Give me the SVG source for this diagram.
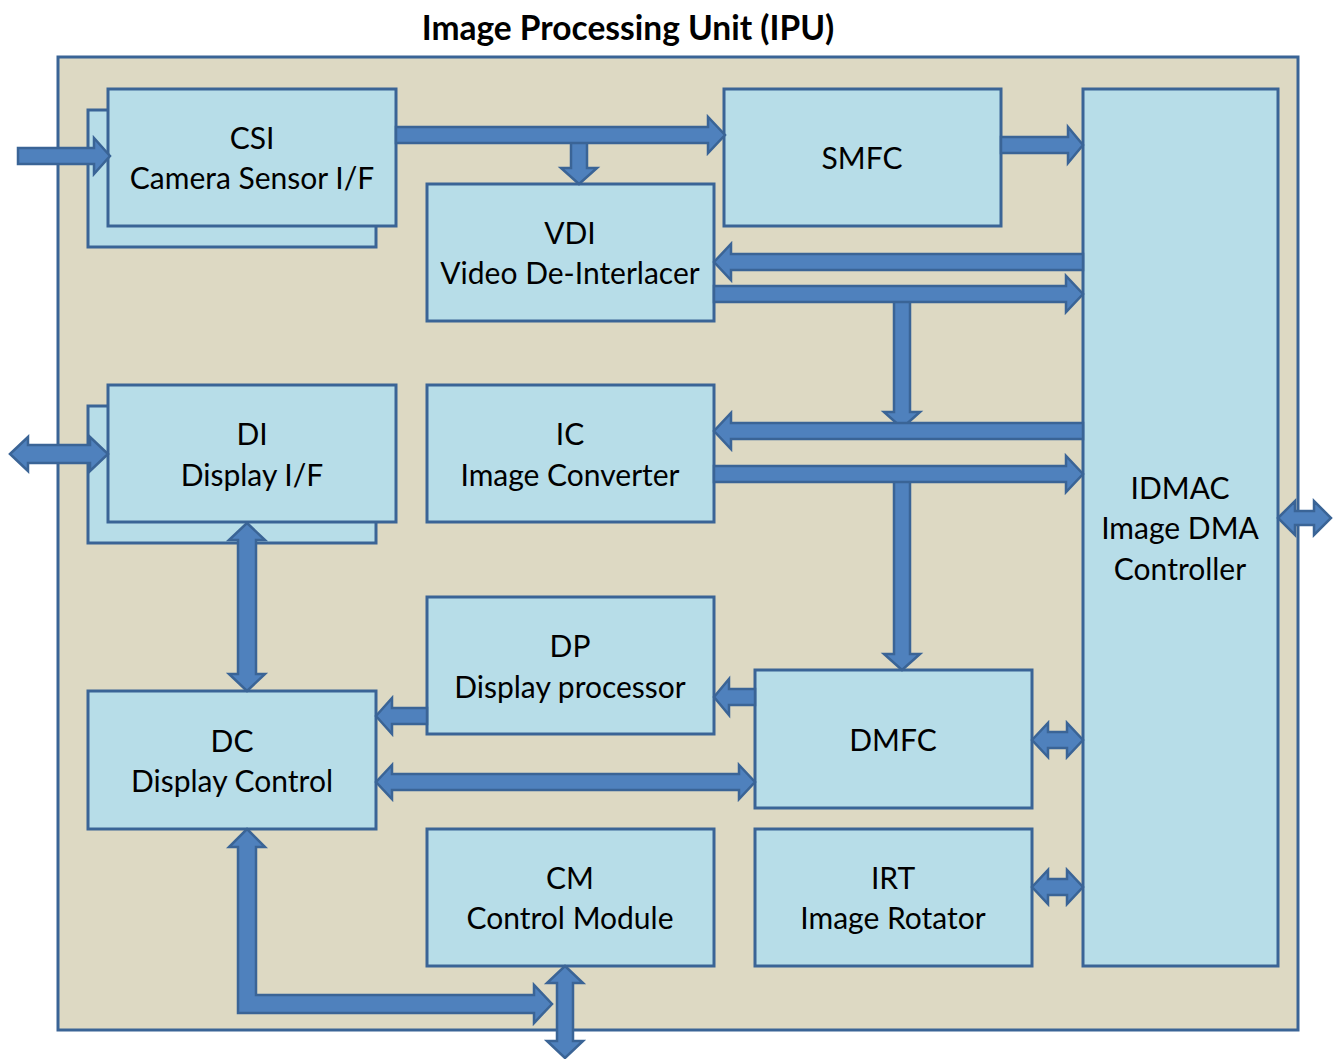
<svg xmlns="http://www.w3.org/2000/svg" width="1333" height="1059" viewBox="0 0 1333 1059">
<style>
.frame{fill:#ddd9c3;stroke:#3a6496;stroke-width:3}
.box{fill:#b7dde8;stroke:#3a6496;stroke-width:3}
.arr{fill:#4f81bd;stroke:#3a6496;stroke-width:2.5;stroke-linejoin:miter}
.t{font-family:Lato,"Open Sans","Liberation Sans",sans-serif;font-size:30px;fill:#000;text-anchor:middle}
.title{font-family:Lato,"Open Sans","Liberation Sans",sans-serif;font-size:33.5px;font-weight:bold;fill:#000;text-anchor:middle}
</style>
<rect width="1333" height="1059" fill="#ffffff"/>
<text class="title" x="628" y="40">Image Processing Unit (IPU)</text>
<rect class="frame" x="58" y="57" width="1240" height="973"/>

<g id="csi">
<rect class="box" x="88" y="110" width="288" height="137"/>
<rect class="box" x="108" y="89" width="288" height="137"/>
<text class="t" x="252" y="149">CSI</text>
<text class="t" x="252" y="189">Camera Sensor I/F</text>
</g>
<g id="smfc">
<rect class="box" x="724" y="89" width="277" height="137"/>
<text class="t" x="862" y="169">SMFC</text>
</g>
<g id="vdi">
<rect class="box" x="427" y="184" width="287" height="137"/>
<text class="t" x="570" y="244">VDI</text>
<text class="t" x="570" y="284">Video De-Interlacer</text>
</g>
<g id="idmac">
<rect class="box" x="1083" y="89" width="195" height="877"/>
<text class="t" x="1180" y="499">IDMAC</text>
<text class="t" x="1180" y="539">Image DMA</text>
<text class="t" x="1180" y="580">Controller</text>
</g>
<g id="di">
<rect class="box" x="88" y="406" width="288" height="137"/>
<rect class="box" x="108" y="385" width="288" height="137"/>
<text class="t" x="252" y="445">DI</text>
<text class="t" x="252" y="486">Display I/F</text>
</g>
<g id="ic">
<rect class="box" x="427" y="385" width="287" height="137"/>
<text class="t" x="570" y="445">IC</text>
<text class="t" x="570" y="486">Image Converter</text>
</g>
<g id="dp">
<rect class="box" x="427" y="597" width="287" height="137"/>
<text class="t" x="570" y="657">DP</text>
<text class="t" x="570" y="698">Display processor</text>
</g>
<g id="dc">
<rect class="box" x="88" y="691" width="288" height="138"/>
<text class="t" x="232" y="752">DC</text>
<text class="t" x="232" y="792">Display Control</text>
</g>
<g id="dmfc">
<rect class="box" x="755" y="670" width="277" height="138"/>
<text class="t" x="893" y="751">DMFC</text>
</g>
<g id="cm">
<rect class="box" x="427" y="829" width="287" height="137"/>
<text class="t" x="570" y="889">CM</text>
<text class="t" x="570" y="929">Control Module</text>
</g>
<g id="irt">
<rect class="box" x="755" y="829" width="277" height="137"/>
<text class="t" x="893" y="889">IRT</text>
<text class="t" x="893" y="929">Image Rotator</text>
</g>

<g id="connectors">
<polygon class="arr" points="18,148 94,148 94,138 110,156 94,174 94,164 18,164"/>
<polygon class="arr" points="571,135 587,135 587,168 597,168 579,184 561,168 571,168"/>
<polygon class="arr" points="396,127 708,127 708,117 725,135 708,153 708,143 396,143"/>
<polygon class="arr" points="1001,137 1068,137 1068,127 1083,145 1068,163 1068,153 1001,153"/>
<polygon class="arr" points="1083,254 731,254 731,244 714,262 731,280 731,270 1083,270"/>
<polygon class="arr" points="894,294 910,294 910,412 920,412 902,428 884,412 894,412"/>
<polygon class="arr" points="714,286 1066,286 1066,276 1083,294 1066,312 1066,302 714,302"/>
<polygon class="arr" points="1083,423 731,423 731,413 714,431 731,449 731,439 1083,439"/>
<polygon class="arr" points="894,474 910,474 910,654 920,654 902,670 884,654 894,654"/>
<polygon class="arr" points="714,466 1066,466 1066,456 1083,474 1066,492 1066,482 714,482"/>
<polygon class="arr" points="755,689 729,689 729,679 714,697 729,715 729,705 755,705"/>
<polygon class="arr" points="427,708 392,708 392,698 376,716 392,734 392,724 427,724"/>
<polygon class="arr" points="376,782 392,765 392,774 739,774 739,765 755,782 739,799 739,790 392,790 392,799"/>
<polygon class="arr" points="247,523 265,540 256,540 256,674 265,674 247,691 229,674 238,674 238,540 229,540"/>
<polygon class="arr" points="10,454 28,437 28,445 90,445 90,437 108,454 90,471 90,463 28,463 28,471"/>
<polygon class="arr" points="247,829 265,847 256,847 256,995 534,995 534,985 552,1004 534,1023 534,1013 238,1013 238,847 229,847"/>
<polygon class="arr" points="565,966 583,983 573,983 573,1041 583,1041 565,1058 547,1041 557,1041 557,983 547,983"/>
<polygon class="arr" points="1278,518 1295,501 1295,511 1314,511 1314,501 1331,518 1314,535 1314,525 1295,525 1295,535"/>
<polygon class="arr" points="1032,740 1048,723 1048,732 1067,732 1067,723 1083,740 1067,757 1067,748 1048,748 1048,757"/>
<polygon class="arr" points="1032,887 1048,870 1048,879 1067,879 1067,870 1083,887 1067,904 1067,895 1048,895 1048,904"/>
</g>
</svg>
